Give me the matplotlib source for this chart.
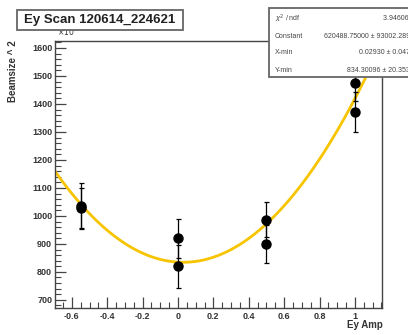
import numpy as np
import matplotlib
matplotlib.use("Agg")
import matplotlib.pyplot as plt
from matplotlib.patches import Rectangle
from matplotlib.ticker import MultipleLocator

plt.rcParams['font.family'] = ['Liberation Sans', 'DejaVu Sans']

# Scan measurements
ey_amp = [-0.55, -0.55, 0.0, 0.0, 0.5, 0.5, 1.0, 1.0]
beamsize_sq = [1035, 1028, 920, 820, 987, 900, 1476, 1370]
beamsize_err = [82, 72, 70, 77, 64, 67, 64, 71]

# Parabolic fit results
fit_constant = 620488.75000
fit_constant_err = 93002.28906
fit_xmin = 0.02930
fit_xmin_err = 0.04736
fit_ymin = 834.30096
fit_ymin_err = 20.35398
chi2, ndf = 3.94606, 5

W, H = 408, 335
fig = plt.figure(figsize=(W / 100, H / 100), dpi=100)
ax = fig.add_axes([55 / W, 1 - 308 / H, (382 - 55) / W, (308 - 41) / H])

xlim = (-0.695, 1.153)
ylim = (671, 1625)
ax.set_xlim(*xlim)
ax.set_ylim(*ylim)

xs = np.linspace(xlim[0], xlim[1], 400)
ys = fit_constant / 1000.0 * (xs - fit_xmin) ** 2 + fit_ymin
ax.plot(xs, ys, color='#f7c400', lw=2.0, zorder=2)

ax.errorbar(ey_amp, beamsize_sq, yerr=beamsize_err, fmt='o', color='black',
            ms=6.5, elinewidth=0.9, capsize=1.8, capthick=0.9, zorder=3)

for s in ax.spines.values():
    s.set_color('#444444')
    s.set_linewidth(1.0)

ax.xaxis.set_major_locator(MultipleLocator(0.2))
ax.xaxis.set_minor_locator(MultipleLocator(0.05))
ax.yaxis.set_major_locator(MultipleLocator(100))
ax.yaxis.set_minor_locator(MultipleLocator(20))
ax.tick_params(axis='both', which='major', direction='in', length=8, width=0.9,
               color='#444444', labelsize=6.5, labelcolor='#333333', pad=3)
ax.tick_params(axis='both', which='minor', direction='in', length=4, width=0.8,
               color='#444444')
ax.tick_params(axis='x', top=False)
ax.tick_params(axis='y', right=False, pad=2)
ax.set_xticklabels([f"{v:g}" if abs(v) > 1e-9 else "0" for v in ax.get_xticks()])
for lab in ax.get_xticklabels() + ax.get_yticklabels():
    lab.set_fontweight('bold')

fig.text(57 / W, 1 - 38 / H, r'$\times10^{3}$', fontsize=5.5, color='#333333',
         ha='left', va='bottom')

fig.text(383 / W, 1 - 330 / H, 'Ey Amp', fontsize=7, fontweight='bold',
         color='#333333', ha='right', va='bottom')
fig.text(13 / W, 1 - 40 / H, 'Beamsize ^ 2', fontsize=7, fontweight='bold',
         color='#333333', ha='center', va='top', rotation=90)

# Title box
fig.patches.append(Rectangle((17 / W, 1 - 30 / H), (183 - 17) / W, 20 / H,
                             transform=fig.transFigure, fill=True, facecolor='white',
                             edgecolor='#666666', lw=1.3, zorder=5))
fig.text(100 / W, 1 - 20 / H, 'Ey Scan 120614_224621', fontsize=9.5,
         fontweight='bold', color='#222222', ha='center', va='center', zorder=6)

# Fit statistics box (runs past the right edge of the canvas)
fig.patches.append(Rectangle((269 / W, 1 - 77 / H), 160 / W, 69 / H,
                             transform=fig.transFigure, fill=True, facecolor='white',
                             edgecolor='#666666', lw=1.3, zorder=5))
rows = [
    (r'$\chi^2$ / ndf', f"{chi2:.5f} / {ndf}"),
    ('Constant', f"{fit_constant:.5f} \u00b1 {fit_constant_err:.5f}"),
    ('X-min', f"{fit_xmin:.5f} \u00b1 {fit_xmin_err:.5f}"),
    ('Y-min', f"{fit_ymin:.5f} \u00b1 {fit_ymin_err:.5f}"),
]
for i, (name, val) in enumerate(rows):
    yy = 1 - (19 + 17 * i) / H
    fig.text(275 / W, yy, name, fontsize=5, color='#444444', ha='left',
             va='center', zorder=6)
    fig.text(418 / W, yy, val, fontsize=5, color='#444444', ha='right',
             va='center', zorder=6)

fig.savefig('out.png', dpi=100)
